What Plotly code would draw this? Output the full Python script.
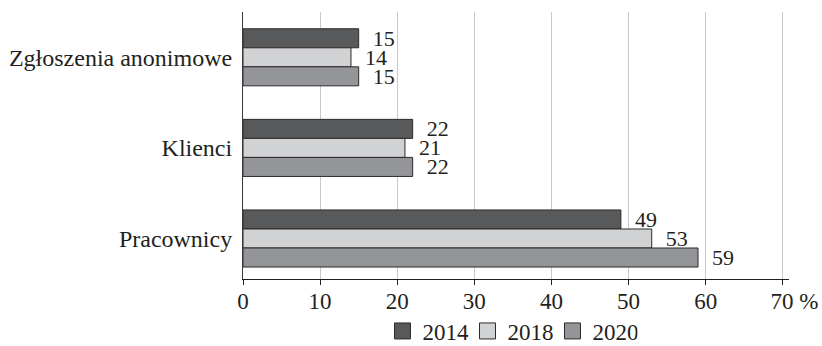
import plotly.graph_objects as go

categories = ["Zgłoszenia anonimowe", "Klienci", "Pracownicy"]
years = ["2014", "2018", "2020"]
values_2014 = [15, 22, 49]
values_2018 = [14, 21, 53]
values_2020 = [15, 22, 59]
tick_values = [0, 10, 20, 30, 40, 50, 60, 70]
tick_labels = ["0", "10", "20", "30", "40", "50", "60", "70 %"]

series = [values_2014, values_2018, values_2020]
colors = ["#58595b", "#d1d2d4", "#939598"]
EDGE = "#2b2b2b"
INK = "#231f20"
FONT = "Liberation Serif, Times New Roman, serif"

# the last tick label carries a unit; pad it on the left so the number sits on its tick
NBSP = "\u00a0"
tick_text = [t if " " not in t else NBSP * 4 + t.replace(" ", NBSP) for t in tick_labels]

fig = go.Figure()
for name, vals, col in zip(years, series, colors):
    fig.add_trace(go.Bar(
        y=categories,
        x=vals,
        name=name,
        orientation="h",
        marker=dict(color=col, line=dict(color=EDGE, width=1)),
        text=vals,
        texttemplate=NBSP * 2 + "%{x}",
        textposition="outside",
        constraintext="none",
        cliponaxis=False,
        textfont=dict(family=FONT, size=22, color=INK),
        showlegend=False,
    ))

# legend entries drawn as square markers so the swatches are larger
for name, col in zip(years, colors):
    fig.add_trace(go.Scatter(
        x=[None],
        y=[None],
        mode="markers",
        name=name,
        marker=dict(symbol="square", size=16, color=col, line=dict(color=EDGE, width=1)),
        showlegend=True,
    ))

fig.update_layout(
    width=822,
    height=346,
    margin=dict(l=243, r=33, t=12, b=67, autoexpand=False),
    paper_bgcolor="white",
    plot_bgcolor="white",
    barmode="group",
    bargap=0.37,
    bargroupgap=0,
    font=dict(family=FONT, size=23, color=INK),
    showlegend=True,
    legend=dict(
        orientation="h",
        x=0.489,
        xanchor="center",
        xref="paper",
        y=15 / 346,
        yanchor="middle",
        yref="container",
        font=dict(family=FONT, size=23, color=INK),
        itemwidth=30,
        entrywidth=40,
        entrywidthmode="pixels",
        tracegroupgap=0,
        traceorder="normal",
    ),
    xaxis=dict(
        range=[0, 70.8],
        tickvals=tick_values,
        ticktext=tick_text,
        automargin=False,
        showgrid=True,
        gridcolor="#c8c8c8",
        gridwidth=1,
        zeroline=False,
        showline=True,
        linecolor=INK,
        linewidth=1,
        ticks="outside",
        ticklen=5,
        tickcolor=INK,
        ticklabelstandoff=-4,
        tickfont=dict(family=FONT, size=23, color=INK),
    ),
    yaxis=dict(
        categoryorder="array",
        categoryarray=categories,
        range=[2.447, -0.5],
        automargin=False,
        showgrid=False,
        zeroline=False,
        showline=True,
        linecolor="#3a3a3a",
        linewidth=1,
        ticks="",
        ticklabelstandoff=5,
        tickfont=dict(family=FONT, size=24, color=INK),
    ),
)

fig.write_html("out.html")
